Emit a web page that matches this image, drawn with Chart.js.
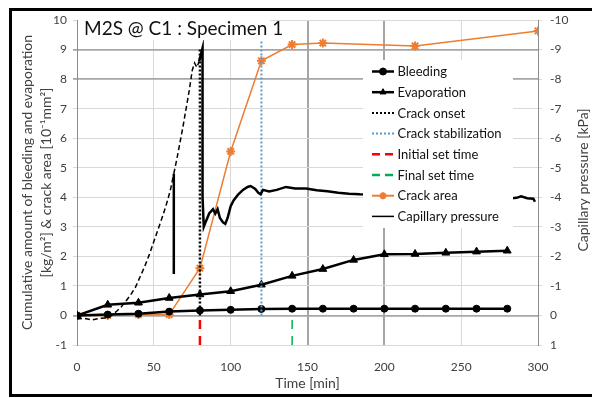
<!DOCTYPE html>
<html>
<head>
<meta charset="utf-8">
<script src="https://cdn.jsdelivr.net/npm/chart.js@4.4.0/dist/chart.umd.min.js"></script>
<style>
  html, body { margin: 0; padding: 0; background: #fff; overflow: hidden; }
  #wrap { position: relative; width: 592px; height: 398px; }
  #frame { position: absolute; left: 9px; top: 8px; width: 620px; height: 389px;
           border: 3px solid #000; box-sizing: border-box; pointer-events: none; }
</style>
</head>
<body>
<div id="wrap">
  <canvas id="chart" width="592" height="398"></canvas>
  <div id="frame"></div>
</div>
<script>
// ---- data ----
const chartTitle = "M2S @ C1 : Specimen 1";
const rightTitle = "Capillary pressure [kPa]";
const timeMin = [0, 20, 40, 60, 80, 100, 120, 140, 160, 180, 200, 220, 240, 260, 280];
const bleeding = [0, 0.03, 0.06, 0.13, 0.17, 0.19, 0.22, 0.23, 0.23, 0.23, 0.23, 0.23, 0.23, 0.23, 0.23];
const evaporation = [0, 0.36, 0.43, 0.59, 0.71, 0.82, 1.04, 1.34, 1.57, 1.88, 2.07, 2.08, 2.12, 2.16, 2.19];

const crackTime = [0, 20, 40, 60, 80, 100, 120, 140, 160, 220, 300];
const crackArea = [0, 0, 0.03, 0.03, 1.6, 5.55, 8.62, 9.17, 9.22, 9.12, 9.63];

const onsetTime = 80, onsetSpan = [0, 9.05];
const stabilizationTime = 120, stabilizationSpan = [0, 10];
const initialSetTime = 80, finalSetTime = 140, setSpan = [-1, -0.15];

// capillary pressure (kPa, right axis)
const capTime = [0, 5, 10, 15, 20, 23, 26, 29, 32, 35, 38, 41, 44, 47, 50, 53, 56, 59, 61, 63, 63, 63,
  65, 67, 69, 71, 73, 75, 76.5, 78, 79.5, 81.7, 81.7, 82.5, 84, 86, 88.5, 90, 91.5, 93, 95, 96.5, 98,
  100, 102, 105, 108, 111, 113, 116, 118, 119.5, 121, 125, 130, 136, 142, 149, 156, 163, 170, 177,
  184, 200, 230, 260, 283, 286, 289, 293, 297, 298];
const capPressure = [0.12, 0.1, 0.15, 0.1, 0.08, -0.02, -0.15, -0.3, -0.5, -0.7, -0.95, -1.3, -1.65,
  -2.05, -2.5, -2.95, -3.4, -3.9, -4.3, -4.8, -1.4, -4.8, -5.3, -5.85, -6.4, -7.0, -7.6, -8.3, -8.55,
  -8.4, -8.6, -9.05, -4.0, -3.0, -3.2, -3.45, -3.6, -3.45, -3.6, -3.3, -3.15, -3.1, -3.3, -3.7, -3.9,
  -4.1, -4.25, -4.35, -4.38, -4.28, -4.15, -4.1, -4.25, -4.2, -4.25, -4.35, -4.3, -4.3, -4.24, -4.2,
  -4.15, -4.12, -4.1, -4.08, -4.05, -4.0, -3.97, -3.98, -4.03, -3.97, -3.95, -3.85];

const xTicks = [0, 50, 100, 150, 200, 250, 300];
const darkX = [150, 200];
const darkY = [0, 8, 9];

const pts = (xs, ys) => xs.map((x, i) => ({ x: x, y: ys[i] }));
const dashedPart = c => c.p1.parsed.x <= 79.5 && c.p0.parsed.x !== c.p1.parsed.x;

Chart.defaults.font.family = "Lato";
Chart.defaults.color = "#404040";

const overlay = {
  id: "overlay",
  afterDatasetsDraw(chart) {
    const ctx = chart.ctx;
    ctx.save();
    // title box
    ctx.fillStyle = "#fff";
    ctx.fillRect(78, 10, 192, 30);
    ctx.fillStyle = "#111";
    ctx.font = "19px Lato";
    ctx.textBaseline = "middle";
    ctx.fillText(chartTitle, 84, 29);

    // right axis title, reads bottom to top like the left one
    ctx.save();
    ctx.translate(583.5, 180);
    ctx.rotate(-Math.PI / 2);
    ctx.textAlign = "center";
    ctx.fillStyle = "#404040";
    ctx.font = "14px Lato";
    ctx.fillText(rightTitle, 0, 0);
    ctx.restore();

    // legend box
    ctx.fillStyle = "#fff";
    ctx.fillRect(363, 60, 150, 168);
    ctx.font = "13px Lato";
    chart.data.datasets.forEach((ds, i) => {
      const y = 71.5 + i * 20.7;
      ctx.save();
      ctx.strokeStyle = ds.borderColor;
      ctx.lineWidth = ds.legendWidth || ds.borderWidth;
      ctx.setLineDash(ds.legendDash || ds.borderDash || []);
      ctx.beginPath();
      ctx.moveTo(372, y);
      ctx.lineTo(394, y);
      ctx.stroke();
      ctx.setLineDash([]);
      if (ds.pointStyle && ds.pointRadius) {
        ctx.fillStyle = ds.borderColor;
        ctx.lineWidth = ds.pointBorderWidth || 1;
        Chart.helpers.drawPoint(ctx, { pointStyle: ds.pointStyle, radius: 3.5,
          borderWidth: ds.pointBorderWidth || 1, rotation: 0 }, 383, y);
      }
      ctx.restore();
      ctx.fillStyle = "#111";
      ctx.fillText(ds.label, 397.5, y + 0.5);
    });
    ctx.restore();
  }
};

new Chart(document.getElementById("chart"), {
  type: "line",
  data: {
    datasets: [
      {
        label: "Bleeding",
        data: pts(timeMin, bleeding),
        borderColor: "#000", backgroundColor: "#000",
        borderWidth: 2.5, pointStyle: "circle", pointRadius: 3.5, pointBorderWidth: 1,
        yAxisID: "y", order: 3
      },
      {
        label: "Evaporation",
        data: pts(timeMin, evaporation),
        borderColor: "#000", backgroundColor: "#000",
        borderWidth: 2.5, pointStyle: "triangle", pointRadius: 4.5, pointBorderWidth: 1,
        yAxisID: "y", order: 3
      },
      {
        label: "Crack onset",
        data: pts([onsetTime, onsetTime], onsetSpan),
        borderColor: "#000", borderWidth: 2.5, borderDash: [2, 2], legendWidth: 2,
        pointRadius: 0, yAxisID: "y", order: 2
      },
      {
        label: "Crack stabilization",
        data: pts([stabilizationTime, stabilizationTime], stabilizationSpan),
        borderColor: "#5B9BD5", borderWidth: 2, borderDash: [2, 2],
        pointRadius: 0, yAxisID: "y", order: 2
      },
      {
        label: "Initial set time",
        data: pts([initialSetTime, initialSetTime], setSpan),
        borderColor: "#FF0000", borderWidth: 2.5, borderDash: [9, 7], legendDash: [8, 5],
        pointRadius: 0, yAxisID: "y", order: 2
      },
      {
        label: "Final set time",
        data: pts([finalSetTime, finalSetTime], setSpan),
        borderColor: "#00B050", borderWidth: 1.5, borderDash: [9, 7], legendWidth: 2.5, legendDash: [8, 5],
        pointRadius: 0, yAxisID: "y", order: 2
      },
      {
        label: "Crack area",
        data: pts(crackTime, crackArea),
        borderColor: "#ED7D31", backgroundColor: "#ED7D31",
        borderWidth: 1.5, pointStyle: "star", pointRadius: 4.5, pointBorderWidth: 2, legendWidth: 2,
        yAxisID: "y", order: 4
      },
      {
        label: "Capillary pressure",
        data: pts(capTime, capPressure),
        borderColor: "#000", borderWidth: 2.5, legendWidth: 1.5,
        pointRadius: 0, yAxisID: "y2", order: 1,
        segment: {
          borderDash: c => dashedPart(c) ? [5, 3] : undefined,
          borderWidth: c => dashedPart(c) ? 1.5 : undefined
        }
      }
    ]
  },
  options: {
    responsive: false,
    animation: false,
    layout: { padding: { top: 20, left: 0, right: 0, bottom: 0 } },
    plugins: { legend: { display: false }, tooltip: { enabled: false } },
    scales: {
      x: {
        type: "linear", min: 0, max: 300,
        afterBuildTicks: s => { s.ticks = xTicks.map(v => ({ value: v })); },
        afterFit: s => { s.height = 53; },
        ticks: { font: { size: 12 }, padding: 15 },
        grid: {
          drawTicks: false,
          color: c => darkX.includes(c.tick.value) ? "#a6a6a6" : "#d9d9d9",
          lineWidth: c => darkX.includes(c.tick.value) ? 2 : 1
        },
        border: { display: false },
        title: { display: true, text: "Time [min]", font: { size: 14 }, padding: { top: 0, bottom: 6 } }
      },
      y: {
        position: "left", min: -1, max: 10,
        ticks: { stepSize: 1, font: { size: 12 }, padding: 6 },
        afterFit: s => { s.width = 77; },
        grid: {
          tickLength: 4,
          color: c => darkY.includes(c.tick.value) ? "#a6a6a6" : "#d9d9d9",
          lineWidth: c => darkY.includes(c.tick.value) ? 1.8 : 1
        },
        border: { color: "#8c8c8c", width: 1 },
        title: {
          display: true,
          text: ["Cumulative amount of bleeding and evaporation", "[kg/m²] & crack area [10⁻¹mm²]"],
          font: { size: 14, lineHeight: 1.35 }, padding: { top: 18, bottom: 0 }
        }
      },
      y2: {
        position: "right", min: -10, max: 1, reverse: true,
        ticks: { stepSize: 1, font: { size: 12 }, padding: 8 },
        afterFit: s => { s.width = 54; },
        grid: { drawOnChartArea: false, tickLength: 4, color: "#d9d9d9" },
        border: { color: "#8c8c8c", width: 1 },
        title: { display: false }
      }
    }
  },
  plugins: [overlay]
});
</script>
</body>
</html>
